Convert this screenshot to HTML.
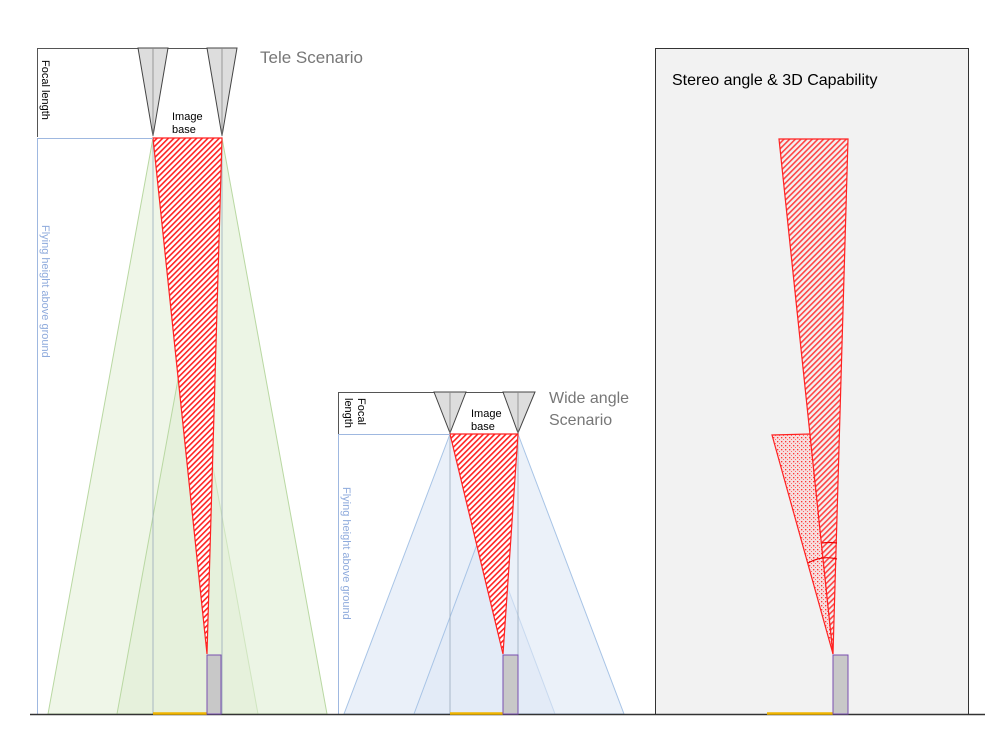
<!DOCTYPE html>
<html><head><style>html,body{margin:0;padding:0;background:#fff}svg{display:block}</style></head>
<body>
<svg width="999" height="737" viewBox="0 0 999 737" xmlns="http://www.w3.org/2000/svg" font-family="Liberation Sans, sans-serif">
<defs>
<pattern id="h" width="4" height="4" patternUnits="userSpaceOnUse" patternTransform="rotate(45)">
<rect width="4" height="4" fill="#fff"/><rect width="1.6" height="4" fill="#f22"/></pattern>
<pattern id="hg" width="4" height="4" patternUnits="userSpaceOnUse" patternTransform="rotate(45)">
<rect width="4" height="4" fill="#f2f2f2"/><rect width="1.6" height="4" fill="#f44"/></pattern>
<pattern id="d" width="4" height="4" patternUnits="userSpaceOnUse">
<rect width="4" height="4" fill="#f6dede"/><rect x="1" y="1" width="1.3" height="1.3" fill="#f33"/><rect x="3" y="3" width="1" height="1" fill="#f66"/></pattern>
</defs>
<rect x="655.5" y="48.5" width="313" height="666" fill="#f2f2f2" stroke="#333" stroke-width="1"/>
<text x="672" y="85" font-size="16" fill="#000">Stereo angle &amp; 3D Capability</text>
<polygon points="772,435 810,434 833,654" fill="url(#d)" stroke="#f22" stroke-width="1.2"/>
<polygon points="779,139 848,139 833,654" fill="url(#hg)" stroke="#f22" stroke-width="1.2"/>
<path d="M822,543 Q830,542 837,543" fill="none" stroke="#e00" stroke-width="1.2"/>
<path d="M808,563 Q822,555 837,559" fill="none" stroke="#e00" stroke-width="1.2"/>

<polygon points="153,138 48,714 258,714" fill="#e8f2de" fill-opacity="0.7" stroke="#b9d8a2"/>
<polygon points="222,138 117,714 327,714" fill="#e0eed4" fill-opacity="0.6" stroke="#b9d8a2"/>
<line x1="153" y1="138" x2="153" y2="714" stroke="#9ab" stroke-width="0.8"/>
<line x1="222" y1="138" x2="222" y2="714" stroke="#9ab" stroke-width="0.8"/>
<polygon points="153,138 222,138 207,654" fill="url(#h)" stroke="#f22" stroke-width="1.2"/>
<line x1="37" y1="48.5" x2="237" y2="48.5" stroke="#555"/>
<line x1="37.5" y1="48" x2="37.5" y2="137" stroke="#555"/>
<line x1="37" y1="138.5" x2="153" y2="138.5" stroke="#9fb8e0"/>
<line x1="37.5" y1="138" x2="37.5" y2="714" stroke="#9fb8e0"/>
<polygon points="138,48 168,48 153,136" fill="#ddd" stroke="#444"/>
<polygon points="207,48 237,48 222,136" fill="#ddd" stroke="#444"/>
<line x1="153" y1="48" x2="153" y2="136" stroke="#888" stroke-width="0.8"/>
<line x1="222" y1="48" x2="222" y2="136" stroke="#888" stroke-width="0.8"/>
<text x="260" y="63" font-size="17" fill="#777">Tele Scenario</text>
<text x="172" y="120" font-size="11" fill="#000">Image</text>
<text x="172" y="133" font-size="11" fill="#000">base</text>
<text transform="translate(42,60) rotate(90)" font-size="11" fill="#000">Focal length</text>
<text transform="translate(42,225) rotate(90)" font-size="11" fill="#8eaadc">Flying height above ground</text>

<polygon points="450,434 344,714 555,714" fill="#e6edf8" fill-opacity="0.85" stroke="#a8c4e6"/>
<polygon points="518,434 414,714 624,714" fill="#dde7f5" fill-opacity="0.6" stroke="#a8c4e6"/>
<line x1="450" y1="434" x2="450" y2="714" stroke="#9ab" stroke-width="0.8"/>
<line x1="518" y1="434" x2="518" y2="714" stroke="#9ab" stroke-width="0.8"/>
<polygon points="450,434 518,434 503,654" fill="url(#h)" stroke="#f22" stroke-width="1.2"/>
<line x1="338" y1="392.5" x2="535" y2="392.5" stroke="#555"/>
<line x1="338.5" y1="392" x2="338.5" y2="434" stroke="#555"/>
<line x1="338" y1="434.5" x2="450" y2="434.5" stroke="#9fb8e0"/>
<line x1="338.5" y1="434" x2="338.5" y2="714" stroke="#9fb8e0"/>
<polygon points="434,392 466,392 450,433" fill="#ddd" stroke="#444"/>
<polygon points="503,392 535,392 518,433" fill="#ddd" stroke="#444"/>
<line x1="450" y1="392" x2="450" y2="433" stroke="#888" stroke-width="0.8"/>
<line x1="518" y1="392" x2="518" y2="433" stroke="#888" stroke-width="0.8"/>
<text x="549" y="403" font-size="16" fill="#777">Wide angle</text>
<text x="549" y="425" font-size="16" fill="#777">Scenario</text>
<text x="471" y="417" font-size="11" fill="#000">Image</text>
<text x="471" y="430" font-size="11" fill="#000">base</text>
<text transform="translate(358,398) rotate(90)" font-size="11" fill="#000">Focal</text>
<text transform="translate(345,398) rotate(90)" font-size="11" fill="#000">length</text>
<text transform="translate(343,487) rotate(90)" font-size="11" fill="#8eaadc">Flying height above ground</text>

<line x1="30" y1="714.5" x2="985" y2="714.5" stroke="#333" stroke-width="1.5"/>
<line x1="153" y1="713.5" x2="207" y2="713.5" stroke="#f0b400" stroke-width="2.5"/>
<line x1="450" y1="713.5" x2="503" y2="713.5" stroke="#f0b400" stroke-width="2.5"/>
<line x1="767" y1="713.5" x2="833" y2="713.5" stroke="#f0b400" stroke-width="2.5"/>
<rect x="207" y="655" width="14" height="59" fill="#c8c8c8" stroke="#7a4fb0"/>
<rect x="503" y="655" width="15" height="59" fill="#c8c8c8" stroke="#7a4fb0"/>
<rect x="833" y="655" width="15" height="59" fill="#c8c8c8" stroke="#7a4fb0"/>
</svg>
</body></html>
